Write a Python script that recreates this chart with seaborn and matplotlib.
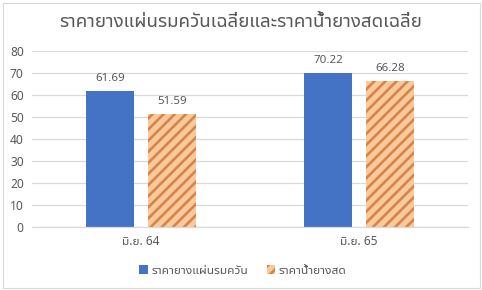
import matplotlib
matplotlib.use("Agg")
import matplotlib.pyplot as plt
import seaborn as sns
import pandas as pd
from matplotlib.patches import Rectangle

categories = ["มิ.ย. 64", "มิ.ย. 65"]
series_names = ["ราคายางแผ่นรมควัน", "ราคาน้ำยางสด"]
smoked_sheet = [61.69, 70.22]
latex = [51.59, 66.28]
title = "ราคายางแผ่นรมควันเฉลี่ยและราคาน้ำยางสดเฉลี่ย"
yticks = [0, 10, 20, 30, 40, 50, 60, 70, 80]

sns.set_theme(style="white")
FAM = ["Noto Sans", "Noto Sans Thai UI", "DejaVu Sans"]
plt.rcParams["font.family"] = FAM
plt.rcParams["hatch.linewidth"] = 1.9

TXT = "#595959"
BLUE = "#4472C4"
PEACH = "#F9C99B"
STRIPE = "#D4864A"

df = pd.DataFrame({
    "cat": categories * 2,
    "series": [series_names[0]] * 2 + [series_names[1]] * 2,
    "value": smoked_sheet + latex,
})

fig = plt.figure(figsize=(4.82, 2.9), dpi=100)
fig.patches.append(Rectangle((2.5/482, 2.5/290), 477/482, 285/290, transform=fig.transFigure,
                             fill=False, edgecolor="#D9D9D9", linewidth=0.8))
ax = fig.add_axes([32/482, 63/290, 436/482, 176/290])

sns.barplot(data=df, x="cat", y="value", hue="series", hue_order=series_names,
            palette=[BLUE, PEACH], width=0.568, gap=0.21, ax=ax, legend=False,
            saturation=1, errorbar=None)

for p in ax.containers[1]:
    p.set_facecolor(PEACH)
    p.set_edgecolor(STRIPE)
    p.set_hatch("///")
    p.set_linewidth(0)
for p in ax.containers[0]:
    p.set_linewidth(0)

for cont in ax.containers:
    ax.bar_label(cont, labels=[f"{v.get_height():.2f}" for v in cont], padding=5,
                 fontsize=8.3, color=TXT, family=FAM)

ax.set_ylim(0, 80)
ax.set_xlim(-0.5, 1.5)
ax.set_yticks(yticks)
ax.yaxis.grid(True, color="#D9D9D9", linewidth=0.9)
ax.set_axisbelow(True)
for s in ["top", "right", "left"]:
    ax.spines[s].set_visible(False)
ax.spines["bottom"].set_color("#D9D9D9")
ax.spines["bottom"].set_linewidth(0.9)
ax.tick_params(axis="both", length=0, colors=TXT, labelsize=8.6)
ax.tick_params(axis="y", pad=6)
ax.tick_params(axis="x", pad=6)
ax.set_xlabel("")
ax.set_ylabel("")

fig.text(0.5, 268/290, title, ha="center", va="center", fontsize=13.5, color=TXT, family=FAM)

handles = [Rectangle((0, 0), 1, 1, facecolor=BLUE, linewidth=0),
           Rectangle((0, 0), 1, 1, facecolor=PEACH, edgecolor=STRIPE, hatch="///", linewidth=0)]
fig.legend(handles, series_names, loc="center", bbox_to_anchor=(243/482, 20/290), ncol=2,
           frameon=False, fontsize=8.6, labelcolor=TXT, handlelength=0.7, handleheight=0.7,
           handletextpad=0.3, columnspacing=1.6, borderpad=0)

fig.savefig("out.png", dpi=100)
